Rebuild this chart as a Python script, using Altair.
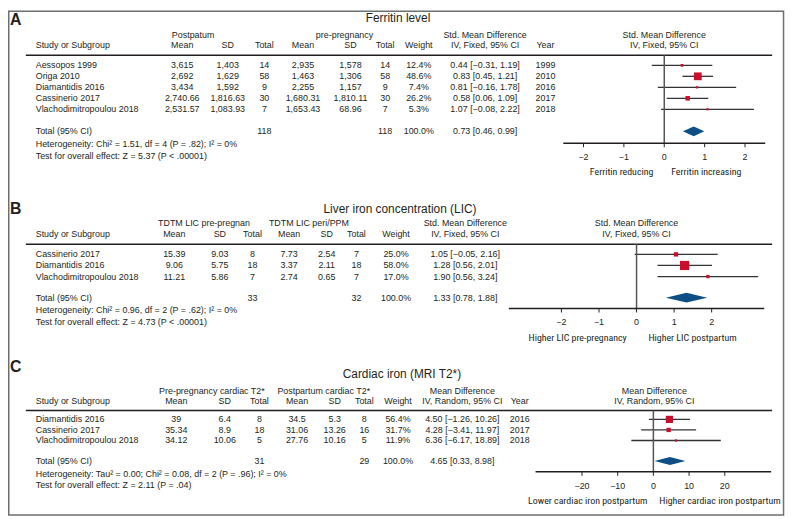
import altair as alt
import pandas as pd

# ---------------- data ----------------
# Panel A - Ferritin level
A_STUDIES = ["Aessopos 1999", "Origa 2010", "Diamantidis 2016", "Cassinerio 2017", "Vlachodimitropoulou 2018"]
A_MEAN1 = ["3,615", "2,692", "3,434", "2,740.66", "2,531.57"]
A_SD1 = ["1,403", "1,629", "1,592", "1,816.63", "1,083.93"]
A_N1 = [14, 58, 9, 30, 7]
A_MEAN2 = ["2,935", "1,463", "2,255", "1,680.31", "1,653.43"]
A_SD2 = ["1,578", "1,306", "1,157", "1,810.11", "68.96"]
A_N2 = [14, 58, 9, 30, 7]
A_WEIGHT = [12.4, 48.6, 7.4, 26.2, 5.3]
A_EST = [0.44, 0.83, 0.81, 0.58, 1.07]
A_LO = [-0.31, 0.45, -0.16, 0.06, -0.08]
A_HI = [1.19, 1.21, 1.78, 1.09, 2.22]
A_YEAR = [1999, 2010, 2016, 2017, 2018]
A_TOTAL = [0.73, 0.46, 0.99]
A_TOTAL_N = [118, 118]
A_TICKS = [-2, -1, 0, 1, 2]

# Panel B - Liver iron concentration
B_STUDIES = ["Cassinerio 2017", "Diamantidis 2016", "Vlachodimitropoulou 2018"]
B_MEAN1 = ["15.39", "9.06", "11.21"]
B_SD1 = ["9.03", "5.75", "5.86"]
B_N1 = [8, 18, 7]
B_MEAN2 = ["7.73", "3.37", "2.74"]
B_SD2 = ["2.54", "2.11", "0.65"]
B_N2 = [7, 18, 7]
B_WEIGHT = [25.0, 58.0, 17.0]
B_EST = [1.05, 1.28, 1.90]
B_LO = [-0.05, 0.56, 0.56]
B_HI = [2.16, 2.01, 3.24]
B_TOTAL = [1.33, 0.78, 1.88]
B_TOTAL_N = [33, 32]
B_TICKS = [-2, -1, 0, 1, 2]

# Panel C - Cardiac iron
C_STUDIES = ["Diamantidis 2016", "Cassinerio 2017", "Vlachodimitropoulou 2018"]
C_MEAN1 = ["39", "35.34", "34.12"]
C_SD1 = ["6.4", "8.9", "10.06"]
C_N1 = [8, 18, 5]
C_MEAN2 = ["34.5", "31.06", "27.76"]
C_SD2 = ["5.3", "13.26", "10.16"]
C_N2 = [8, 16, 5]
C_WEIGHT = [56.4, 31.7, 11.9]
C_EST = [4.50, 4.28, 6.36]
C_LO = [-1.26, -3.41, -6.17]
C_HI = [10.26, 11.97, 18.89]
C_YEAR = [2016, 2017, 2018]
C_TOTAL = [4.65, 0.33, 8.98]
C_TOTAL_N = [31, 29]
C_TICKS = [-20, -10, 0, 10, 20]

PANELS = [
    dict(letter="A", title="Ferritin level", grp1="Postpatum", grp2="pre-pregnancy",
         effect="Std. Mean Difference", method="IV, Fixed, 95% CI",
         studies=A_STUDIES, m1=A_MEAN1, s1=A_SD1, n1=A_N1, m2=A_MEAN2, s2=A_SD2, n2=A_N2,
         weight=A_WEIGHT, est=A_EST, lo=A_LO, hi=A_HI, year=A_YEAR, total=A_TOTAL, total_n=A_TOTAL_N,
         het="Heterogeneity: Chi\u00b2 = 1.51, df = 4 (P = .82); I\u00b2 = 0%",
         test="Test for overall effect: Z = 5.37 (P < .00001)",
         dir_l="Ferritin reducing", dir_r="Ferritin increasing",
         xdom=[-2.5, 2.5], ticks=A_TICKS),
    dict(letter="B", title="Liver iron concentration (LIC)", grp1="TDTM LIC pre-pregnan", grp2="TDTM LIC peri/PPM",
         effect="Std. Mean Difference", method="IV, Fixed, 95% CI",
         studies=B_STUDIES, m1=B_MEAN1, s1=B_SD1, n1=B_N1, m2=B_MEAN2, s2=B_SD2, n2=B_N2,
         weight=B_WEIGHT, est=B_EST, lo=B_LO, hi=B_HI, year=None, total=B_TOTAL, total_n=B_TOTAL_N,
         het="Heterogeneity: Chi\u00b2 = 0.96, df = 2 (P = .62); I\u00b2 = 0%",
         test="Test for overall effect: Z = 4.73 (P < .00001)",
         dir_l="Higher LIC pre-pregnancy", dir_r="Higher LIC postpartum",
         xdom=[-3.4, 3.4], ticks=B_TICKS),
    dict(letter="C", title="Cardiac iron (MRI T2*)", grp1="Pre-pregnancy cardiac T2*", grp2="Postpartum cardiac T2*",
         effect="Mean Difference", method="IV, Random, 95% CI",
         studies=C_STUDIES, m1=C_MEAN1, s1=C_SD1, n1=C_N1, m2=C_MEAN2, s2=C_SD2, n2=C_N2,
         weight=C_WEIGHT, est=C_EST, lo=C_LO, hi=C_HI, year=C_YEAR, total=C_TOTAL, total_n=C_TOTAL_N,
         het="Heterogeneity: Tau\u00b2 = 0.00; Chi\u00b2 = 0.08, df = 2 (P = .96); I\u00b2 = 0%",
         test="Test for overall effect: Z = 2.11 (P = .04)",
         dir_l="Lower cardiac iron postpartum", dir_r="Higher cardiac iron postpartum",
         xdom=[-33, 33], ticks=C_TICKS),
]

# ---------------- layout (page pixel positions) ----------------
LAYOUTS = [
    dict(letter_y=18, title=(402, 16), h1=33, h2=43, line=53, row0=63.3, dy=11.1, total=130, het=142.7, test=155,
         g1=195, g2=348, m1=184, s1=230, n1=267, m2=306, s2=354, n2=389, w=423, ci=490, year=551, fx=671,
         xr=(569, 773), axis_y=142, dir_y=171, dir_l=660, dir_r=678, dia_h=5, sq=[4, 92]),
    dict(letter_y=208, title=(404, 208), h1=223, h2=234, line=244, row0=254.3, dy=11.2, total=298, het=311, test=323,
         g1=206, g2=312, m1=176, s1=222, n1=255, m2=292, s2=330, n2=360, w=400, ci=470, year=None, fx=643,
         xr=(514, 772), axis_y=309, dir_y=339, dir_l=633, dir_r=655, dia_h=5, sq=[4, 92]),
    dict(letter_y=368, title=(406, 375), h1=392, h2=402, line=412, row0=421, dy=10.65, total=463, het=476, test=487,
         g1=214, g2=327, m1=178, s1=227, n1=262, m2=300, s2=338, n2=368, w=402, ci=467, year=525, fx=661,
         xr=(541, 779), axis_y=474, dir_y=503, dir_l=654, dir_r=666, dia_h=4, sq=[3, 60]),
]

RED = "#c8102e"
BLUE = "#0d4f84"
INK = "#231f20"
FONT = "Liberation Sans"
COND = "Roboto Condensed, Liberation Sans"
W, H = 787, 511

PX = alt.Scale(domain=[8, 8 + W], range=[0, W], nice=False, zero=False)
PY = alt.Scale(domain=[8, 8 + H], range=[0, H], nice=False, zero=False)


def ci_text(e, l, h):
    return f"{e:.2f} [{l:.2f}, {h:.2f}]".replace("-", "\u2212")


texts = []
rules = []


def add(kind, x, y, text):
    texts.append(dict(kind=kind, x=x, y=y, text=str(text)))


forest_layers = []
for d, L in zip(PANELS, LAYOUTS):
    add("B16", 10, L["letter_y"], d["letter"])
    add("T12", L["title"][0], L["title"][1], d["title"])
    add("C9", L["g1"], L["h1"], d["grp1"])
    add("C9", L["g2"], L["h1"], d["grp2"])
    add("C9", L["ci"], L["h1"], d["effect"])
    add("C9", L["fx"], L["h1"], d["effect"])
    add("L9", 36, L["h2"], "Study or Subgroup")
    for key, lab in [("m1", "Mean"), ("s1", "SD"), ("n1", "Total"), ("m2", "Mean"),
                     ("s2", "SD"), ("n2", "Total"), ("w", "Weight")]:
        add("C9", L[key], L["h2"], lab)
    add("C9", L["ci"], L["h2"], d["method"])
    add("C9", L["fx"], L["h2"], d["method"])
    if L["year"]:
        add("C9", L["year"], L["h2"], "Year")
    rules.append(dict(x=26, x2=780, y=L["line"]))
    ys = [L["row0"] + i * L["dy"] for i in range(len(d["studies"]))]
    for i, y in enumerate(ys):
        add("L9", 36, y, d["studies"][i])
        for key in ["m1", "s1", "n1", "m2", "s2", "n2"]:
            add("C9", L[key], y, d[key][i])
        add("C9", L["w"], y, f"{d['weight'][i]:.1f}%")
        add("C9", L["ci"], y, ci_text(d["est"][i], d["lo"][i], d["hi"][i]))
        if L["year"]:
            add("C9", L["year"], y, d["year"][i])
    add("L9", 36, L["total"], "Total (95% CI)")
    add("C9", L["n1"], L["total"], d["total_n"][0])
    add("C9", L["n2"], L["total"], d["total_n"][1])
    add("C9", L["w"], L["total"], "100.0%")
    add("C9", L["ci"], L["total"], ci_text(*d["total"]))
    add("L9", 36, L["het"], d["het"])
    add("L9", 36, L["test"], d["test"])
    add("DR", L["dir_l"], L["dir_y"], d["dir_l"])
    add("DL", L["dir_r"], L["dir_y"], d["dir_r"])

    # forest plot
    xs = alt.Scale(domain=d["xdom"], range=[L["xr"][0] - 8, L["xr"][1] - 8], nice=False, zero=False)
    XE = lambda f: alt.X(f, scale=xs, axis=None)
    YE = lambda f: alt.Y(f, scale=PY, axis=None)
    rows = pd.DataFrame(dict(est=d["est"], lo=d["lo"], hi=d["hi"], w=d["weight"], y=ys))
    ci = alt.Chart(rows).mark_rule(color="#333333", strokeWidth=1.3).encode(
        x=XE("lo:Q"), x2="hi:Q", y=YE("y:Q"))
    sq = alt.Chart(rows).mark_point(shape="square", filled=True, color=RED, opacity=1, strokeWidth=0).encode(
        x=XE("est:Q"), y=YE("y:Q"),
        size=alt.Size("w:Q", scale=alt.Scale(type="pow", exponent=2, domain=[0, 60], range=L["sq"]), legend=None))
    e, lo, hi = d["total"]
    yc, hh = L["total"], L["dia_h"]
    dia = pd.DataFrame(dict(x=[lo, e, hi], y1=[yc, yc - hh, yc], y2=[yc, yc + hh, yc]))
    diamond = alt.Chart(dia).mark_area(orient="vertical", color=BLUE, opacity=1).encode(
        x=XE("x:Q"), y=YE("y1:Q"), y2="y2:Q")
    zero_df = pd.DataFrame(dict(x=[0], y1=[L["line"]], y2=[L["axis_y"]]))
    zero = alt.Chart(zero_df).mark_rule(color="#555555", strokeWidth=1.5).encode(
        x=XE("x:Q"), y=YE("y1:Q"), y2="y2:Q")
    dom_df = pd.DataFrame(dict(x=[d["xdom"][0]], x2=[d["xdom"][1]], y=[L["axis_y"]]))
    dom = alt.Chart(dom_df).mark_rule(color=INK, strokeWidth=1.5).encode(x=XE("x:Q"), x2="x2:Q", y=YE("y:Q"))
    tk_df = pd.DataFrame(dict(t=d["ticks"], y=[L["axis_y"]] * len(d["ticks"]),
                              y2=[L["axis_y"] + 4] * len(d["ticks"]),
                              ly=[L["axis_y"] + 14] * len(d["ticks"]),
                              lab=[str(t).replace("-", "\u2212") for t in d["ticks"]]))
    tks = alt.Chart(tk_df).mark_rule(color=INK, strokeWidth=1).encode(x=XE("t:Q"), y=YE("y:Q"), y2="y2:Q")
    tlab = alt.Chart(tk_df).mark_text(fontSize=9, font=FONT, color=INK, baseline="middle", align="center").encode(
        x=XE("t:Q"), y=YE("ly:Q"), text="lab:N")
    forest_layers.append(alt.layer(ci, zero, dom, tks, tlab, diamond, sq))

tdf = pd.DataFrame(texts)
STYLES = {
    "L9": dict(align="left", fontSize=9, font=FONT),
    "C9": dict(align="center", fontSize=9, font=FONT),
    "T12": dict(align="center", fontSize=12, font=FONT),
    "B16": dict(align="left", fontSize=16, font=FONT, fontWeight="bold"),
    "DR": dict(align="right", fontSize=10, font=COND),
    "DL": dict(align="left", fontSize=10, font=COND),
}
layout_layers = []
for kind, st in STYLES.items():
    sub = tdf[tdf["kind"] == kind]
    layout_layers.append(
        alt.Chart(sub).mark_text(baseline="middle", color=INK, **st).encode(
            x=alt.X("x:Q", scale=PX, axis=None), y=alt.Y("y:Q", scale=PY, axis=None), text="text:N"))

rdf = pd.DataFrame(rules)
layout_layers.append(alt.Chart(rdf).mark_rule(color=INK, strokeWidth=1.5).encode(
    x=alt.X("x:Q", scale=PX, axis=None), x2="x2:Q", y=alt.Y("y:Q", scale=PY, axis=None)))

frame = pd.DataFrame(dict(x=[8.75], x2=[791.5], y=[8.75], y2=[517.5]))
layout_layers.append(alt.Chart(frame).mark_rect(filled=False, stroke="#6d6e71", strokeWidth=1.5).encode(
    x=alt.X("x:Q", scale=PX, axis=None), x2="x2:Q", y=alt.Y("y:Q", scale=PY, axis=None), y2="y2:Q"))

layout_group = alt.layer(*layout_layers)

chart = alt.layer(layout_group, *forest_layers).resolve_scale(x="independent", size="independent").properties(
    width=W, height=H, autosize=alt.AutoSizeParams(type="none"), padding=0, background="white"
).configure_view(stroke=None)

chart.save("out.html", embed_options={"renderer": "svg", "actions": False})
